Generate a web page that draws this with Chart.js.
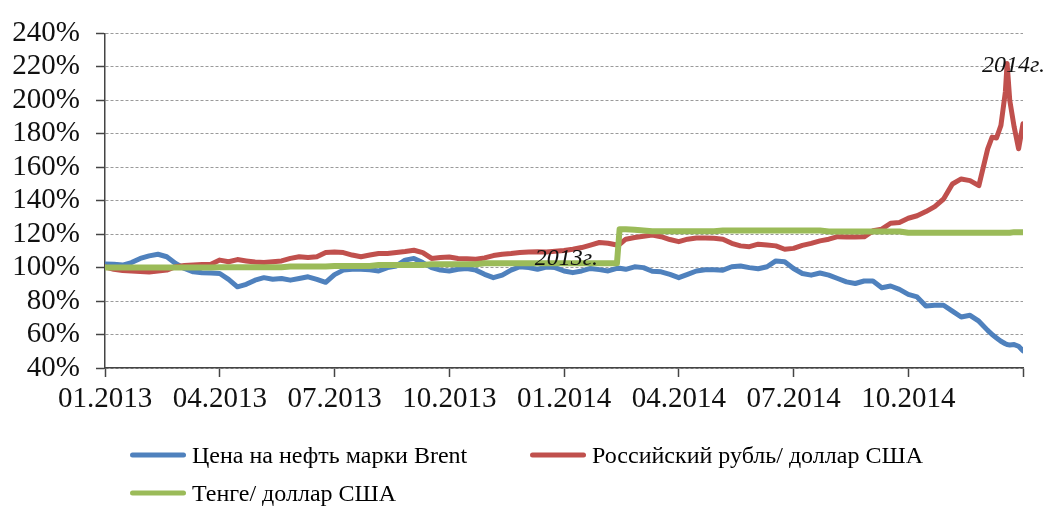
<!DOCTYPE html>
<html>
<head>
<meta charset="utf-8">
<script src="https://cdn.jsdelivr.net/npm/chart.js@4/dist/chart.umd.min.js"></script>
<style>
  html, body { margin: 0; padding: 0; background: #fff; }
  #wrap { position: relative; width: 1048px; height: 506px; }
  #chart { position: absolute; left: 0; top: 0; }
  .item { position: absolute; display: flex; align-items: center; font-family: "Liberation Serif", serif; font-size: 24px; color: #000; white-space: nowrap; transform: translateY(-50%); }
  .swatch { display: inline-block; width: 56px; height: 5px; border-radius: 3px; margin-right: 6px; }
</style>
</head>
<body>
<div id="wrap">
  <canvas id="chart" width="1048" height="506"></canvas>
  <div id="legend"></div>
</div>
<script>
// x = weeks since 01.2013 (13 weeks per quarter), extra points where the lines jump
var weeks = [0,1,2,3,4,5,6,7,8,9,10,11,12,13,14,15,16,17,18,19,20,21,22,23,24,25,26,27,28,29,
  30,31,32,33,34,35,36,37,38,39,40,41,42,43,44,45,46,47,48,49,50,51,52,53,54,55,56,57,58,58.3,
  59,60,61,62,63,64,65,66,67,68,69,70,71,72,73,74,75,76,77,78,79,80,81,82,83,84,85,86,87,88,89,
  90,91,92,93,94,95,96,97,98,99,100,100.5,101,101.5,102,102.2,102.5,103,103.5,104];

var quarterLabels = ['01.2013','04.2013','07.2013','10.2013','01.2014','04.2014','07.2014','10.2014',''];

var seriesNames = ['Цена на нефть марки Brent', 'Российский рубль/ доллар США', 'Тенге/ доллар США'];

// Brent, % of 01.2013
var brent = [102.2,102,101.5,103,105.5,107,108,106.5,102.5,99.5,
  97.5,97,96.8,96.5,93,88.5,90,92.5,94,93,
  93.5,92.5,93.5,94.5,93,91.2,95.8,98.5,99,99,
  98.7,98,100,101,104.5,105.5,103,100,98.5,98,
  99,99.5,98.5,96,94,95.5,98.5,100.5,100,99,
  100.3,100,98,97,98,99.5,98.8,98,99.5,99.6,
  99,100.5,100,97.8,97.5,96,94,96,98,98.7,98.7,
  98.5,100.5,101,100,99.3,100.5,104,103.5,99.5,96.5,
  95.5,96.8,95.5,93.5,91.5,90.5,92,92,88,89,
  87,84,82.5,77,77.5,77.5,74,70.5,71.5,68,
  62.5,60,58,56,54.5,54,53.8,54,53,50.3];

// RUB / USD
var rub = [100.5,99,98.3,98,97.7,97.4,98,98.5,100.5,101.3,
  101.5,101.8,102,104.5,103.5,104.8,104,103.3,103,103.5,
  104,105.5,106.5,106,106.5,109,109.4,109,107.5,106.5,
  107.5,108.4,108.4,109,109.6,110.4,109,105.5,106,106.3,
  105.5,105.3,105,105.8,107.2,108,108.4,109,109.4,109.5,
  109.4,109.8,110.2,111,112,113.5,115,114.6,113.5,114,
  117,118,118.8,119.5,118.5,116.8,115.5,117,117.7,117.7,117.5,
  117,114.5,113,112.5,114,113.5,113,111,111.5,113.3,
  114.5,116,117,118.5,118.3,118.3,118.4,122,123,126.5,
  127,129.5,131,133.5,136.5,141,150,153,152,149,
  171,178,177.5,185,205,222,200,184,171,186];

// KZT / USD
var kzt = [100,100,100,100,100,100,100,100,100,100,
  100,100,100,100.2,100.2,100.2,100.2,100.2,100.2,100.2,
  100.2,100.6,100.6,100.6,100.6,100.6,101,101,101,101,
  101,101.6,101.6,101.6,101.6,101.6,101.6,102,102,102,
  102,102,102,102.6,102.6,102.6,102.6,102.6,102.6,102.6,
  102.6,102.6,102.6,102.6,102.6,102.6,102.6,102.6,102.6,123,
  123,122.6,122.2,121.8,121.8,121.8,121.8,121.8,121.8,121.8,121.8,
  122.2,122.2,122.2,122.2,122.2,122.2,122.2,122.2,122.2,122.2,
  122.2,122.2,121.6,121.6,121.6,121.6,121.6,121.6,121.6,121.6,
  121.6,120.8,120.8,120.8,120.8,120.8,120.8,120.8,120.8,120.8,
  120.8,120.8,120.8,120.8,120.8,120.8,120.8,121.2,121.2,121.2];

var noteText = ['2013г.', '2014г.'];
var noteWeek = [48.7, 99.35];
var noteValue = [101.5, 217.2];

var colors = ['#4F81BD', '#C0504D', '#9BBB59'];
var widths = [5, 5, 6];
var drawOrder = [2, 1, 0];

function points(values){
  return weeks.map(function(w, i){ return {x: w, y: values[i]}; });
}

var datasets = [brent, rub, kzt].map(function(values, i){
  return {
    label: seriesNames[i],
    data: points(values),
    borderColor: colors[i],
    backgroundColor: colors[i],
    borderWidth: widths[i],
    borderJoinStyle: 'round',
    borderCapStyle: 'round',
    pointRadius: 0,
    tension: 0,
    order: drawOrder[i]
  };
});

var notesPlugin = {
  id: 'notes',
  afterDatasetsDraw: function(chart){
    var ctx = chart.ctx, x = chart.scales.x, y = chart.scales.y;
    ctx.save();
    ctx.font = 'italic 24px "Liberation Serif"';
    ctx.fillStyle = '#111';
    ctx.textBaseline = 'alphabetic';
    noteText.forEach(function(t, i){
      ctx.fillText(t, x.getPixelForValue(noteWeek[i]), y.getPixelForValue(noteValue[i]));
    });
    ctx.restore();
  }
};

var tickFont = {family: '"Liberation Serif"', size: 29};

new Chart(document.getElementById('chart'), {
  type: 'line',
  data: {datasets: datasets},
  plugins: [notesPlugin],
  options: {
    responsive: false,
    animation: false,
    devicePixelRatio: 1,
    layout: {padding: {left: 0, right: 25, top: 25, bottom: 98}},
    plugins: {legend: {display: false}, tooltip: {enabled: false}},
    scales: {
      x: {
        type: 'linear',
        min: 0,
        max: 104,
        afterFit: function(s){ s.height = 40; },
        afterBuildTicks: function(s){
          s.ticks = quarterLabels.map(function(l, i){ return {value: i * 13}; });
        },
        ticks: {
          autoSkip: false,
          maxRotation: 0,
          padding: 5,
          color: '#111',
          font: tickFont,
          callback: function(v){ return quarterLabels[Math.round(v / 13)]; }
        },
        grid: {drawOnChartArea: false, drawTicks: true, tickLength: 9, tickColor: '#444', tickWidth: 1.5},
        border: {color: '#444', width: 1.5}
      },
      y: {
        min: 40,
        max: 240,
        afterFit: function(s){ s.width = 105; },
        ticks: {
          autoSkip: false,
          stepSize: 20,
          padding: 16,
          color: '#111',
          font: tickFont,
          callback: function(v){ return v + '%'; }
        },
        grid: {color: '#9a9a9a', lineWidth: 1, tickLength: 9, tickColor: '#444', tickWidth: 1.5, tickBorderDash: []},
        border: {color: '#444', width: 1.5, dash: [3, 2]}
      }
    }
  }
});

// legend
var legendPos = [[130, 455], [530, 455], [130, 493]];
var legend = document.getElementById('legend');
seriesNames.forEach(function(name, i){
  var item = document.createElement('div');
  item.className = 'item';
  item.style.left = legendPos[i][0] + 'px';
  item.style.top = legendPos[i][1] + 'px';
  item.innerHTML = '<span class="swatch" style="background:' + colors[i] + '"></span>' + name;
  legend.appendChild(item);
});
</script>
</body>
</html>
